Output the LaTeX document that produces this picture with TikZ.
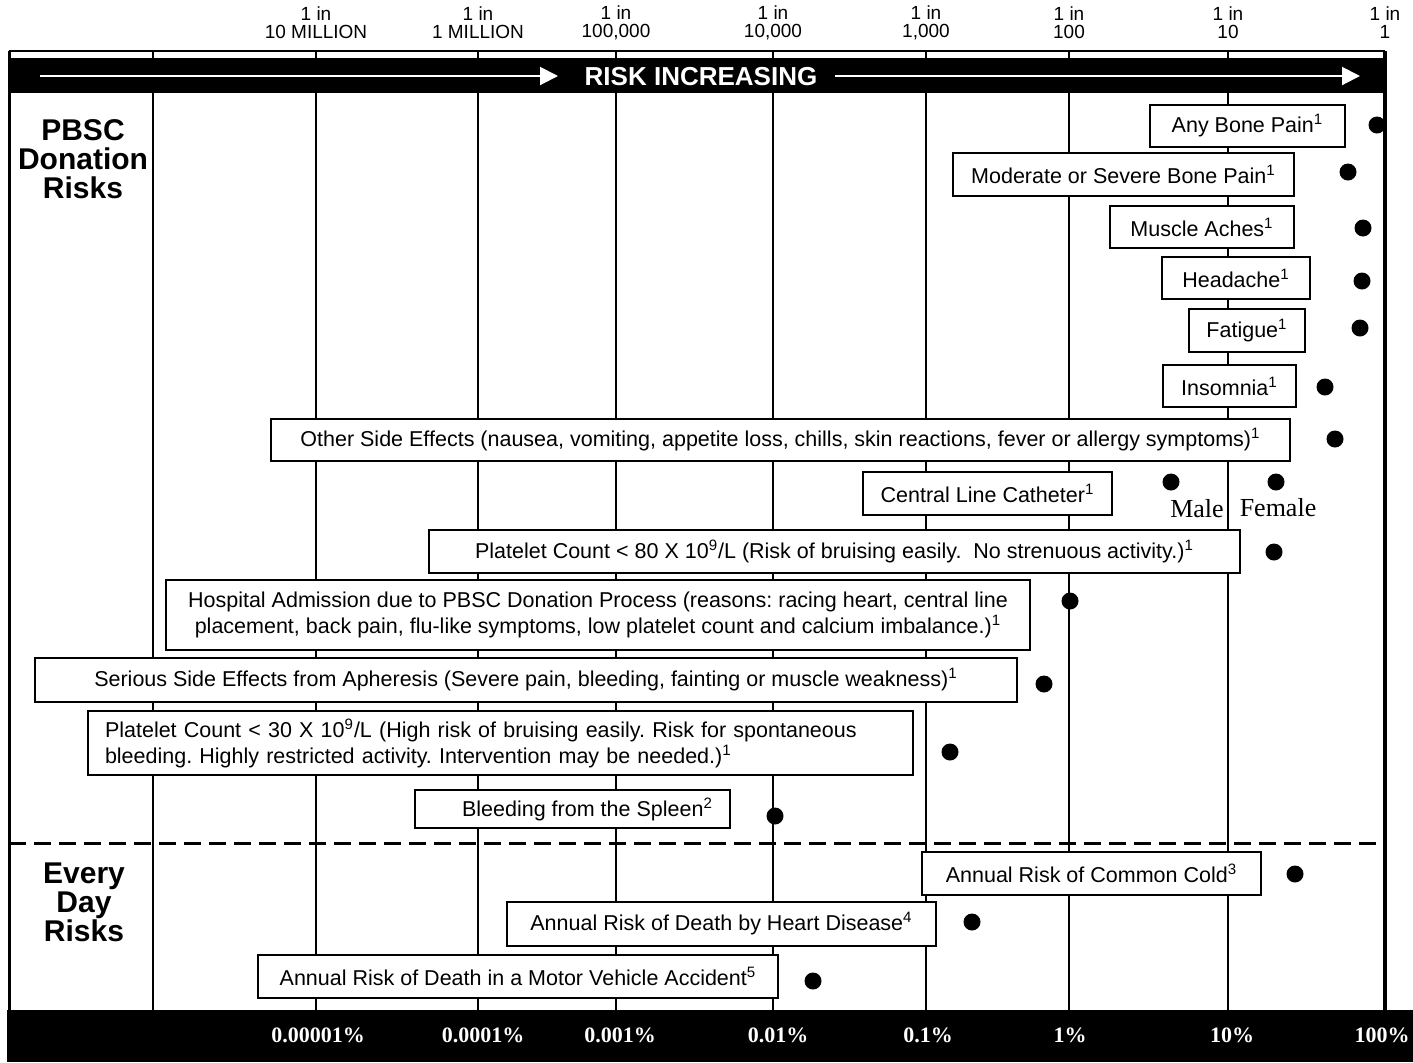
\documentclass[tikz,border=0pt]{standalone}
\usepackage{fontspec}
\setmainfont{Liberation Sans}
\newfontfamily\timesfont{Liberation Serif}
\usetikzlibrary{arrows.meta}
\frenchspacing

\tikzset{
  riskbox/.style={draw, fill=white, line width=0.7pt, inner sep=2pt,
    font=\fontsize{10.75}{13}\selectfont},
  riskdot/.style={circle, fill=black, inner sep=0pt, minimum size=8.5pt},
  scalelbl/.style={align=center, inner sep=0pt, font=\fontsize{9.5}{9}\selectfont},
  pctlbl/.style={text=white, inner sep=0pt, font=\timesfont\bfseries\fontsize{11}{13}\selectfont},
  grouplbl/.style={align=center, inner sep=0pt, font=\bfseries\fontsize{15}{14.5}\selectfont},
  sexlbl/.style={inner sep=0pt, font=\timesfont\fontsize{13}{15}\selectfont},
  gridline/.style={line width=0.75pt},
  barline/.style={white, line width=1pt, -{Triangle[length=9pt,width=9pt]}},
}

\begin{document}
\begin{tikzpicture}[x=0.5pt, y=-0.5pt]
  \useasboundingbox (0,0) rectangle (1413,1062);
  \fill[white] (0,0) rectangle (1413,1062);
  % grid lines
  \draw[gridline] (153,51) -- (153,1010);
  \draw[gridline] (316,51) -- (316,1010);
  \draw[gridline] (478,51) -- (478,1010);
  \draw[gridline] (616,51) -- (616,1010);
  \draw[gridline] (773,51) -- (773,1010);
  \draw[gridline] (926,51) -- (926,1010);
  \draw[gridline] (1069,51) -- (1069,1010);
  \draw[gridline] (1228,51) -- (1228,1010);
  % frame
  \draw[line width=1pt] (9,51) -- (1385,51);
  \draw[line width=1.5pt] (9,51) -- (9,1010);
  \draw[line width=2pt] (1385,51) -- (1385,1010);
  % title bar
  \fill (9,58) rectangle (1387,93);
  \node[text=white, font=\bfseries\fontsize{13}{14}\selectfont] (title) at (701,77) {RISK INCREASING};
  \coordinate (lstart) at (40,76);
  \coordinate (lend) at (558,76);
  \coordinate (rstart) at (835,76);
  \coordinate (rend) at (1360,76);
  \draw[barline] (lstart) -- (lend);
  \draw[barline] (rstart) -- (rend);
  % scale on top
  \node[scalelbl] (s7) at (316,23) {1 in\\10 MILLION};
  \node[scalelbl] (s6) at (478,23) {1 in\\1 MILLION};
  \node[scalelbl] (s5) at (616,23) {1 in\\100,000};
  \node[scalelbl] (s4) at (773,23) {1 in\\10,000};
  \node[scalelbl] (s3) at (926,23) {1 in\\1,000};
  \node[scalelbl] (s2) at (1069,23) {1 in\\100};
  \node[scalelbl] (s1) at (1228,23) {1 in\\10};
  \node[scalelbl] (s0) at (1385,23) {1 in\\1};
  % group labels
  \node[grouplbl] (pbsc) at (83,159) {PBSC\\Donation\\Risks};
  \node[grouplbl] (everyday) at (84,902) {Every\\Day\\Risks};
  % separator
  \draw[line width=1.5pt, dash pattern=on 8.5pt off 4pt] (9,843) -- (1385,843);
  % donation risks
  \node[riskbox, minimum width=97.5pt, minimum height=21pt] (bone) at (1247.5,126) {Any Bone Pain\textsuperscript{1}};
  \node[riskdot] (bonedot) at (1377,125) {};
  \node[riskbox, minimum width=170.5pt, minimum height=21.5pt] (modbone) at (1123.5,174.5) {Moderate or Severe Bone Pain\textsuperscript{1}};
  \node[riskdot] (modbonedot) at (1348,172) {};
  \node[riskbox, minimum width=92pt, minimum height=21pt] (muscle) at (1202,227) {Muscle Aches\textsuperscript{1}};
  \node[riskdot] (muscledot) at (1363,228) {};
  \node[riskbox, minimum width=74pt, minimum height=21pt] (headache) at (1236,278) {Headache\textsuperscript{1}};
  \node[riskdot] (headachedot) at (1362,281) {};
  \node[riskbox, minimum width=58pt, minimum height=21.5pt] (fatigue) at (1247,330.5) {Fatigue\textsuperscript{1}};
  \node[riskdot] (fatiguedot) at (1360,328) {};
  \node[riskbox, minimum width=66.5pt, minimum height=21pt] (insomnia) at (1229.5,386) {Insomnia\textsuperscript{1}};
  \node[riskdot] (insomniadot) at (1325,387) {};
  \node[riskbox, minimum width=509.5pt, minimum height=21pt] (other) at (780.5,440) {Other Side Effects (nausea, vomiting, appetite loss, chills, skin reactions, fever or allergy symptoms)\textsuperscript{1}};
  \node[riskdot] (otherdot) at (1335,439) {};
  \node[riskbox, minimum width=124.5pt, minimum height=21.5pt] (catheter) at (987.5,493.5) {Central Line Catheter\textsuperscript{1}};
  \node[riskdot] (maledot) at (1171,482) {};
  \node[riskdot] (femaledot) at (1276,482) {};
  \node[sexlbl] (male) at (1197,509) {Male};
  \node[sexlbl] (female) at (1278,508) {Female};
  \node[riskbox, minimum width=405.5pt, minimum height=21.5pt] (plt80) at (834.5,551.5) {Platelet Count < 80 X 10\textsuperscript{9}/L (Risk of bruising easily.\ \ No strenuous activity.)\textsuperscript{1}};
  \node[riskdot] (plt80dot) at (1274,552) {};
  \node[riskbox, minimum width=432pt, minimum height=35pt, align=center] (hosp) at (598,615) {Hospital Admission due to PBSC Donation Process (reasons: racing heart, central line\\placement, back pain, flu-like symptoms, low platelet count and calcium imbalance.)\textsuperscript{1}};
  \node[riskdot] (hospdot) at (1070,601) {};
  \node[riskbox, minimum width=491pt, minimum height=22pt] (apher) at (526,680) {Serious Side Effects from Apheresis (Severe pain, bleeding, fainting or muscle weakness)\textsuperscript{1}};
  \node[riskdot] (apherdot) at (1044,684) {};
  \node[riskbox, inner xsep=8.5pt, text width=395.5pt, align=left, minimum height=32pt] (plt30) at (500.5,743) {Platelet Count < 30 X 10\textsuperscript{9}/L (High risk of bruising easily. Risk for spontaneous\\bleeding. Highly restricted activity. Intervention may be needed.)\textsuperscript{1}};
  \node[riskdot] (plt30dot) at (950,752) {};
  \node[riskbox, minimum width=157.5pt, minimum height=19pt] (spleen) at (572.5,809) {\hspace{15pt}Bleeding from the Spleen\textsuperscript{2}};
  \node[riskdot] (spleendot) at (775,816) {};
  % every day risks
  \node[riskbox, minimum width=169.5pt, minimum height=21.5pt] (cold) at (1091.5,873.5) {Annual Risk of Common Cold\textsuperscript{3}};
  \node[riskdot] (colddot) at (1295,874) {};
  \node[riskbox, minimum width=214.5pt, minimum height=22pt] (heart) at (721.5,924) {Annual Risk of Death by Heart Disease\textsuperscript{4}};
  \node[riskdot] (heartdot) at (972,922) {};
  \node[riskbox, minimum width=260pt, minimum height=21.5pt] (motor) at (518,976.5) {Annual Risk of Death in a Motor Vehicle Accident\textsuperscript{5}};
  \node[riskdot] (motordot) at (813,981) {};
  % percent bar
  \fill (7,1010) rectangle (1413,1062);
  \node[pctlbl] (p7) at (318,1035) {0.00001\%};
  \node[pctlbl] (p6) at (483,1035) {0.0001\%};
  \node[pctlbl] (p5) at (620,1035) {0.001\%};
  \node[pctlbl] (p4) at (778,1035) {0.01\%};
  \node[pctlbl] (p3) at (928,1035) {0.1\%};
  \node[pctlbl] (p2) at (1070,1035) {1\%};
  \node[pctlbl] (p1) at (1232,1035) {10\%};
  \node[pctlbl] (p0) at (1382,1035) {100\%};
\end{tikzpicture}
\end{document}
